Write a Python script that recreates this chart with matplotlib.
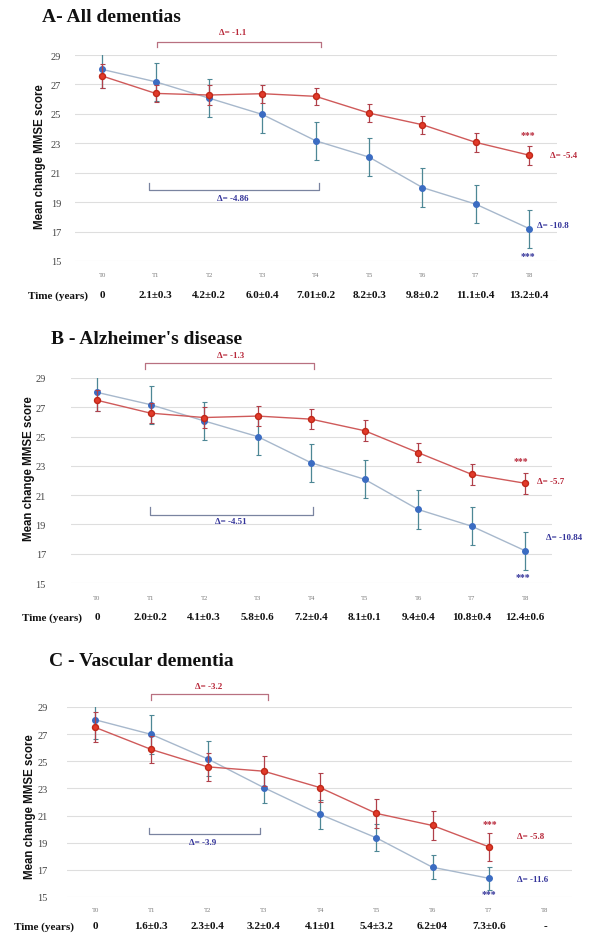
import matplotlib
matplotlib.use("Agg")
import matplotlib.pyplot as plt

# === data ===
timepoints = ["T0", "T1", "T2", "T3", "T4", "T5", "T6", "T7", "T8"]

# A - All dementias
a_blue = [28.02, 27.18, 26.07, 24.96, 23.17, 22.06, 19.99, 18.86, 17.2]
a_blue_err = [1.25, 1.3, 1.3, 1.25, 1.3, 1.3, 1.3, 1.3, 1.3]
a_red = [27.57, 26.39, 26.28, 26.37, 26.19, 25.05, 24.26, 23.06, 22.19]
a_red_err = [0.8, 0.6, 0.7, 0.6, 0.6, 0.6, 0.6, 0.65, 0.65]
a_years = ["0", "2.1±0.3", "4.2±0.2", "6.0±0.4", "7.01±0.2", "8.2±0.3", "9.8±0.2", "11.1±0.4", "13.2±0.4"]

# B - Alzheimer's disease
b_blue = [28.02, 27.18, 26.07, 25.0, 23.21, 22.08, 20.02, 18.88, 17.2]
b_blue_err = [1.25, 1.3, 1.3, 1.25, 1.3, 1.3, 1.3, 1.3, 1.3]
b_red = [27.48, 26.6, 26.3, 26.4, 26.19, 25.4, 23.9, 22.42, 21.81]
b_red_err = [0.7, 0.7, 0.7, 0.7, 0.7, 0.7, 0.65, 0.7, 0.7]
b_years = ["0", "2.0±0.2", "4.1±0.3", "5.8±0.6", "7.2±0.4", "8.1±0.1", "9.4±0.4", "10.8±0.4", "12.4±0.6"]

# C - Vascular dementia (no T8 measurement)
c_blue = [28.06, 26.98, 25.18, 23.06, 21.09, 19.36, 17.19, 16.38]
c_blue_err = [1.45, 1.43, 1.3, 1.1, 1.05, 1.0, 0.87, 0.85]
c_red = [27.5, 25.87, 24.59, 24.27, 23.06, 21.16, 20.27, 18.7]
c_red_err = [1.1, 1.0, 1.05, 1.1, 1.05, 1.05, 1.05, 1.05]
c_years = ["0", "1.6±0.3", "2.3±0.4", "3.2±0.4", "4.1±01", "5.4±3.2", "6.2±04", "7.3±0.6", "-"]

yticks = [15, 17, 19, 21, 23, 25, 27, 29]

# === Farben ===
red_mk = "#e23a2a"
red_line = "#cf5a5a"
red_err = "#b0404a"
blue_mk = "#3b6cc2"
blue_line = "#a7b8cc"
blue_err = "#4d8795"
red_txt = "#b8283a"
blue_txt = "#34349a"
red_brk = "#b87080"
blue_brk = "#7a84a0"

W, H = 592, 937
fig = plt.figure(figsize=(W / 100, H / 100), dpi=100)
serif = "Liberation Serif"


def px_rect(left, right, top, bottom):
    return [left / W, 1 - bottom / H, (right - left) / W, (bottom - top) / H]


def draw_panel(rect, xlim, title, title_xy, ylab_xy, time_x, blue, berr, red, rerr,
               years, brackets, ends, ypad, trow_off, yrow_off):
    ax = fig.add_axes(px_rect(*rect))
    ax.set_xlim(*xlim)
    ax.set_ylim(15, 29)
    for s in ax.spines.values():
        s.set_visible(False)
    ax.set_yticks(yticks)
    ax.yaxis.grid(True, color="#dedede", lw=0.8)
    ax.set_axisbelow(True)
    ax.tick_params(axis="y", length=0, pad=ypad, labelsize=7.5, labelcolor="#444444")
    for lb in ax.get_yticklabels():
        lb.set_fontfamily(serif)
    ax.set_xticks(range(len(timepoints)))
    ax.set_xticklabels(timepoints, fontsize=4.8, color="#777777", family=serif)
    ax.tick_params(axis="x", length=0, pad=trow_off)

    xb = list(range(len(blue)))
    ax.errorbar(xb, blue, yerr=berr, color=blue_line, lw=1.0, ecolor=blue_err,
                elinewidth=0.9, capsize=1.8, capthick=0.8, marker="o", ms=4,
                mfc=blue_mk, mec=blue_mk, zorder=3)
    xr = list(range(len(red)))
    ax.errorbar(xr, red, yerr=rerr, color=red_line, lw=1.0, ecolor=red_err,
                elinewidth=0.9, capsize=1.8, capthick=0.8, marker="o", ms=4.3,
                mfc=red_mk, mec="#c02818", zorder=4)

    # Klammern mit Delta
    for (x0, x1, yh, yend, txt, tx, ty, col, tcol) in brackets:
        ax.plot([x0, x0, x1, x1], [yend, yh, yh, yend], color=col, lw=0.9, clip_on=False)
        ax.text(tx, ty, txt, color=tcol, fontsize=6.5, family=serif, fontweight="bold",
                ha="center", va="center", clip_on=False)
    for (tx, ty, txt, tcol, ha) in ends:
        ax.text(tx, ty, txt, color=tcol, fontsize=6.5 if "Δ" in txt else 7,
                family=serif, fontweight="bold", ha=ha, va="center", clip_on=False)

    # Zeitzeile
    row_y = 1 - (rect[3] + yrow_off) / H
    for i, yv in enumerate(years):
        ax.annotate(yv, (i, row_y), xycoords=("data", "figure fraction"),
                    ha="center", va="center", fontsize=8,
                    family=serif, fontweight="bold", color="#111111")
    fig.text(time_x / W, row_y, "Time (years)", ha="center", va="center",
             fontsize=8, family=serif, fontweight="bold", color="#111111")

    fig.text(title_xy[0] / W, 1 - title_xy[1] / H, title, ha="left", va="center",
             fontsize=14, family=serif, fontweight="bold", color="#111111")
    fig.text(ylab_xy[0] / W, 1 - ylab_xy[1] / H, "Mean change MMSE score", rotation=90,
             ha="center", va="center", fontsize=8.3, family="Liberation Sans",
             fontweight="bold", color="#111111")
    return ax


# Panel A
draw_panel((75, 557, 56, 262), (-0.51, 8.52), "A- All dementias", (42, 18), (40, 157), 58,
           a_blue, a_blue_err, a_red, a_red_err, a_years,
           [(1.02, 4.1, 29.9, 29.52, "Δ= -1.1", 2.45, 30.55, red_brk, red_txt),
            (0.87, 4.06, 19.81, 20.33, "Δ= -4.86", 2.44, 19.29, blue_brk, blue_txt)],
           [(7.97, 23.6, "***", red_txt, "center"),
            (7.97, 15.35, "***", blue_txt, "center"),
            (8.38, 22.19, "Δ= -5.4", red_txt, "left"),
            (8.14, 17.45, "Δ= -10.8", blue_txt, "left")],
           10, 8, 34)

# Panel B
draw_panel((71, 552, 379, 584), (-0.486, 8.5), "B - Alzheimer's disease", (51, 340), (29, 469), 52,
           b_blue, b_blue_err, b_red, b_red_err, b_years,
           [(0.9, 4.06, 30.02, 29.6, "Δ= -1.3", 2.49, 30.6, red_brk, red_txt),
            (0.99, 4.03, 19.65, 20.17, "Δ= -4.51", 2.5, 19.2, blue_brk, blue_txt)],
           [(7.92, 23.35, "***", red_txt, "center"),
            (7.95, 15.45, "***", blue_txt, "center"),
            (8.22, 21.99, "Δ= -5.7", red_txt, "left"),
            (8.38, 18.11, "Δ= -10.84", blue_txt, "left")],
           18, 9, 34)

# Panel C
draw_panel((67, 572, 708, 898), (-0.5, 8.48), "C - Vascular dementia", (49, 662), (30, 807), 44,
           c_blue, c_blue_err, c_red, c_red_err, c_years,
           [(0.99, 3.08, 29.94, 29.5, "Δ= -3.2", 2.01, 30.55, red_brk, red_txt),
            (0.95, 2.93, 19.63, 20.05, "Δ= -3.9", 1.91, 19.02, blue_brk, blue_txt)],
           [(7.02, 20.45, "***", red_txt, "center"),
            (7.0, 15.25, "***", blue_txt, "center"),
            (7.5, 19.53, "Δ= -5.8", red_txt, "left"),
            (7.5, 16.36, "Δ= -11.6", blue_txt, "left")],
           14, 7, 29)

fig.savefig("out.png", dpi=100)
